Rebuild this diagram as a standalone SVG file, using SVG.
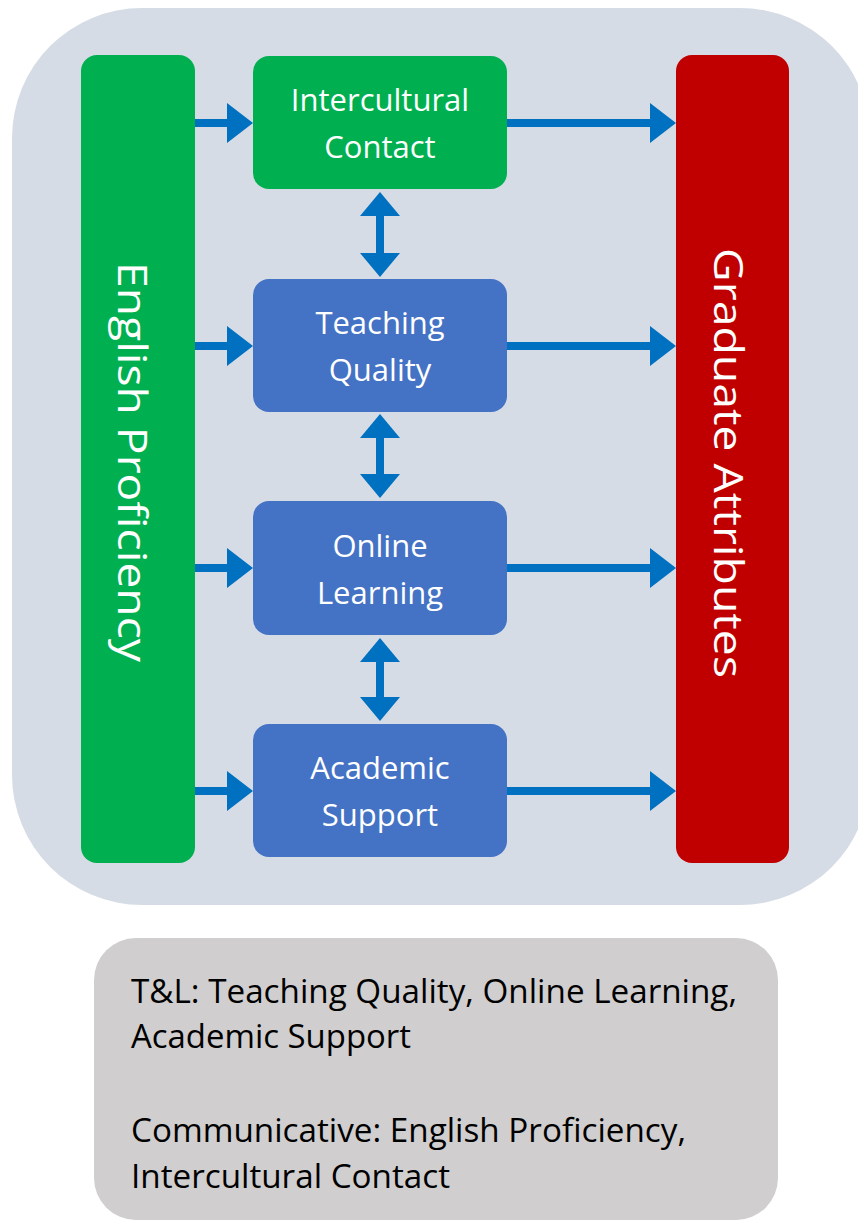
<svg xmlns="http://www.w3.org/2000/svg" width="858" height="1221" viewBox="0 0 858 1221">
  <defs>
    <style>
      .lbl { font-family: "Open Sans", Lato, "Liberation Sans", sans-serif; fill: #ffffff; text-anchor: middle; }
      .box { font-size: 31px; }
      .side { font-size: 40px; }
      .note { font-family: "Open Sans", Lato, "Liberation Sans", sans-serif; font-size: 33px; fill: #000000; }
      .arrow { fill: #0070c0; }
    </style>
  </defs>
  <rect width="858" height="1221" fill="#ffffff"/>
  <!-- framework panel -->
  <rect id="panel" x="12" y="8" width="858" height="897" rx="130" ry="130" fill="#d6dce5"/>

  <g id="english-proficiency">
    <rect x="81" y="55" width="114" height="808" rx="16" fill="#00b050"/>
    <text class="lbl side" transform="translate(118 462) rotate(90)" textLength="400" lengthAdjust="spacingAndGlyphs">English Proficiency</text>
  </g>
  <g id="graduate-attributes">
    <rect x="676" y="55" width="113" height="808" rx="16" fill="#c00000"/>
    <text class="lbl side" transform="translate(714 463) rotate(90)" textLength="430" lengthAdjust="spacingAndGlyphs">Graduate Attributes</text>
  </g>
  <g id="intercultural-contact">
    <rect x="253" y="56" width="254" height="133" rx="16" fill="#00b050"/>
    <text class="lbl box" x="380" y="111">Intercultural</text>
    <text class="lbl box" x="380" y="158">Contact</text>
  </g>
  <g id="teaching-quality">
    <rect x="253" y="279" width="254" height="133" rx="16" fill="#4472c4"/>
    <text class="lbl box" x="380" y="334">Teaching</text>
    <text class="lbl box" x="380" y="381">Quality</text>
  </g>
  <g id="online-learning">
    <rect x="253" y="501" width="254" height="134" rx="16" fill="#4472c4"/>
    <text class="lbl box" x="380" y="557">Online</text>
    <text class="lbl box" x="380" y="604">Learning</text>
  </g>
  <g id="academic-support">
    <rect x="253" y="724" width="254" height="133" rx="16" fill="#4472c4"/>
    <text class="lbl box" x="380" y="779">Academic</text>
    <text class="lbl box" x="380" y="826">Support</text>
  </g>

  <g id="connectors">
    <!-- English Proficiency to each factor -->
    <path class="arrow" d="M195 119 H227 V103 L253 123 L227 143 V127 H195 Z"/>
    <path class="arrow" d="M195 342 H227 V326 L253 346 L227 366 V350 H195 Z"/>
    <path class="arrow" d="M195 564 H227 V548 L253 568 L227 588 V572 H195 Z"/>
    <path class="arrow" d="M195 787 H227 V771 L253 791 L227 811 V795 H195 Z"/>
    <!-- each factor to Graduate Attributes -->
    <path class="arrow" d="M507 119 H650 V103 L676 123 L650 143 V127 H507 Z"/>
    <path class="arrow" d="M507 342 H650 V326 L676 346 L650 366 V350 H507 Z"/>
    <path class="arrow" d="M507 564 H650 V548 L676 568 L650 588 V572 H507 Z"/>
    <path class="arrow" d="M507 787 H650 V771 L676 791 L650 811 V795 H507 Z"/>
    <!-- links between neighbouring factors -->
    <path class="arrow" d="M380 192 L400 216 H384 V253 H400 L380 277 L360 253 H376 V216 H360 Z"/>
    <path class="arrow" d="M380 414 L400 438 H384 V474 H400 L380 498 L360 474 H376 V438 H360 Z"/>
    <path class="arrow" d="M380 638 L400 662 H384 V697 H400 L380 721 L360 697 H376 V662 H360 Z"/>
  </g>

  <g id="legend">
    <rect x="94" y="938" width="684" height="282" rx="42" fill="#d0cece"/>
    <text class="note" x="131" y="1003" textLength="606" lengthAdjust="spacingAndGlyphs">T&amp;L: Teaching Quality, Online Learning,</text>
    <text class="note" x="131" y="1048" textLength="280" lengthAdjust="spacingAndGlyphs">Academic Support</text>
    <text class="note" x="131" y="1142" textLength="555" lengthAdjust="spacingAndGlyphs">Communicative: English Proficiency,</text>
    <text class="note" x="131" y="1188" textLength="319" lengthAdjust="spacingAndGlyphs">Intercultural Contact</text>
  </g>
</svg>
